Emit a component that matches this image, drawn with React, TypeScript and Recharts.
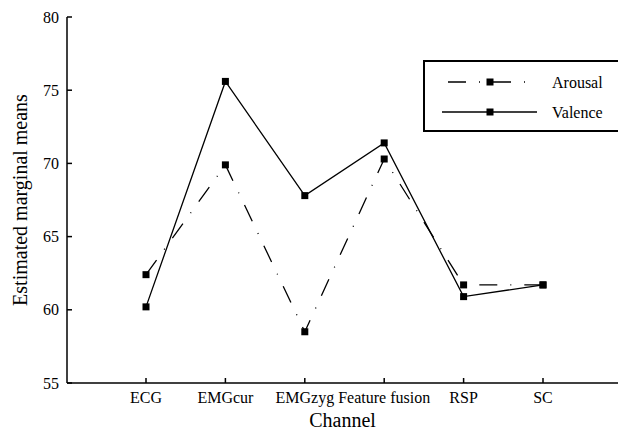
import { LineChart, Line, XAxis, YAxis, Legend, Label } from "recharts";

const channels = ["ECG", "EMGcur", "EMGzyg", "Feature fusion", "RSP", "SC"];
const arousal = [62.4, 69.9, 58.5, 70.3, 61.7, 61.7];
const valence = [60.2, 75.6, 67.8, 71.4, 60.9, 61.7];
const yTicks = [55, 60, 65, 70, 75, 80];

const data = channels.map((channel, i) => ({
  channel,
  Arousal: arousal[i],
  Valence: valence[i],
}));

const FONT = "Liberation Serif";
const AROUSAL_DASH = "18 13 1 13";

function SquareDot(props: any) {
  const { cx, cy } = props;
  if (cx == null || cy == null) return null;
  return <rect x={cx - 3.5} y={cy - 3.5} width={7} height={7} fill="#000" />;
}

// inward tick marks, label outside
function XTick(props: any) {
  const { x, y, payload } = props;
  return (
    <g>
      <rect x={x - 0.75} y={y - 5} width={1.5} height={5} fill="#000" />
      <text x={x} y={y + 14} textAnchor="middle" dy="0.35em" fontFamily={FONT} fontSize={16} fill="#000">
        {payload.value}
      </text>
    </g>
  );
}

function YTick(props: any) {
  const { x, y, payload } = props;
  return (
    <g>
      <path d={`M${x},${y}h5`} stroke="#000" strokeWidth={1.5} />
      <text x={x - 8} y={y} textAnchor="end" dy="0.35em" fontFamily={FONT} fontSize={16} fill="#000">
        {payload.value}
      </text>
    </g>
  );
}

function LegendBox() {
  const rows = [
    { name: "Arousal", dash: AROUSAL_DASH },
    { name: "Valence", dash: undefined },
  ];
  return (
    <svg width={195} height={72} style={{ display: "block" }}>
      <rect x={1} y={1} width={220} height={70} fill="#fff" stroke="#000" strokeWidth={2} />
      {rows.map((r, i) => {
        const y = 22 + i * 30;
        return (
          <g key={r.name}>
            <line x1={19} x2={114} y1={y} y2={y} stroke="#000" strokeWidth={1.3} strokeDasharray={r.dash} strokeDashoffset={-6} />
            <rect x={63.5} y={y - 3.5} width={7} height={7} fill="#000" />
            <text x={129} y={y} dy="0.35em" fontFamily={FONT} fontSize={16} fill="#000">
              {r.name}
            </text>
          </g>
        );
      })}
    </svg>
  );
}

export default function App() {
  return (
    <div style={{ position: "absolute", left: 0, top: 0, width: 618, height: 437, background: "#fff", overflow: "hidden", fontFamily: FONT }}>
      <style>{"html, body { margin: 0; padding: 0; overflow: hidden; }"}</style>
      <LineChart width={618} height={437} data={data} margin={{ top: 17, right: 0, bottom: 0, left: 0 }}>
        <XAxis
          dataKey="channel"
          height={54}
          padding={{ left: 79, right: 75 }}
          axisLine={{ stroke: "#000", strokeWidth: 1.5 }}
          tickLine={false}
          tickSize={0}
          tickMargin={0}
          interval={0}
          tick={XTick}
        >
          <Label
            content={(p: any) => {
              const vb = p.viewBox;
              return (
                <text x={vb.x + vb.width / 2} y={vb.y + 37} textAnchor="middle" dy="0.35em" fontFamily={FONT} fontSize={20} fill="#000">
                  Channel
                </text>
              );
            }}
          />
        </XAxis>
        <YAxis
          width={67}
          domain={[55, 80]}
          ticks={yTicks}
          axisLine={{ stroke: "#000", strokeWidth: 1.5 }}
          tickLine={false}
          tickSize={0}
          tickMargin={0}
          tick={YTick}
        >
          <Label
            content={(p: any) => {
              const vb = p.viewBox;
              const cy = vb.y + vb.height / 2;
              return (
                <text x={20} y={cy} transform={`rotate(-90 20 ${cy})`} textAnchor="middle" dy="0.35em" fontFamily={FONT} fontSize={20} fill="#000">
                  Estimated marginal means
                </text>
              );
            }}
          />
        </YAxis>
        <Legend
          layout="vertical"
          align="center"
          verticalAlign="middle"
          content={() => <LegendBox />}
          wrapperStyle={{ position: "absolute", left: 423, top: 60, width: 195, height: 72 }}
        />
        <Line
          type="linear"
          dataKey="Arousal"
          stroke="#000"
          strokeWidth={1.3}
          strokeDasharray={AROUSAL_DASH}
          dot={<SquareDot />}
          activeDot={false}
          isAnimationActive={false}
        />
        <Line
          type="linear"
          dataKey="Valence"
          stroke="#000"
          strokeWidth={1.3}
          dot={<SquareDot />}
          activeDot={false}
          isAnimationActive={false}
        />
      </LineChart>
    </div>
  );
}
